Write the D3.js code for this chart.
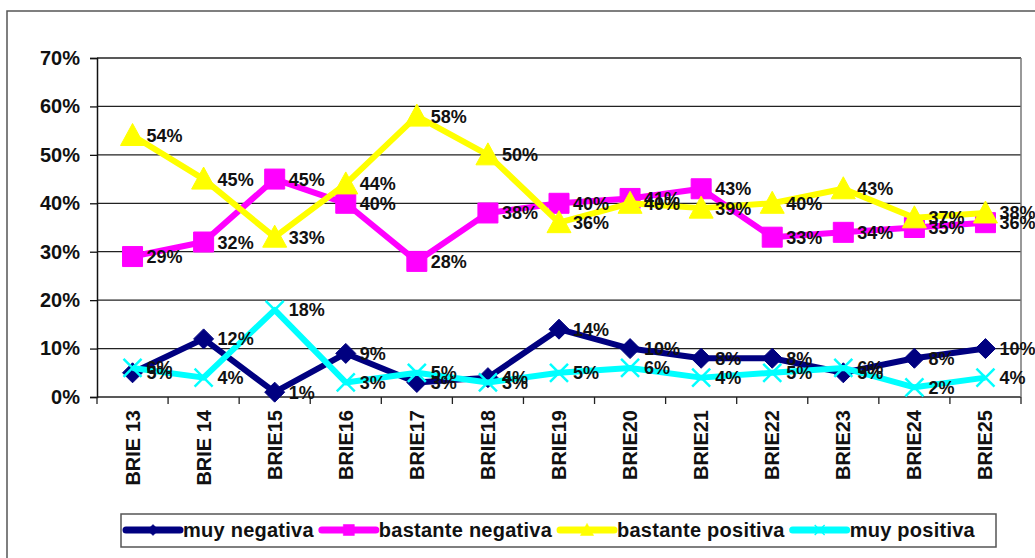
<!DOCTYPE html>
<html>
<head>
<meta charset="utf-8">
<script src="https://cdn.jsdelivr.net/npm/d3@7"></script>
<style>
  body { margin: 0; background: #fff; }
  text { font-family: "Liberation Sans", Arial, sans-serif; font-weight: bold; fill: #111; }
</style>
</head>
<body>
<div id="chart"></div>
<script>
// categories and values
var categories = ["BRIE 13", "BRIE 14", "BRIE15", "BRIE16", "BRIE17", "BRIE18", "BRIE19",
                  "BRIE20", "BRIE21", "BRIE22", "BRIE23", "BRIE24", "BRIE25"];
var muyNegativa      = [5, 12, 1, 9, 3, 4, 14, 10, 8, 8, 5, 8, 10];
var bastanteNegativa = [29, 32, 45, 40, 28, 38, 40, 41, 43, 33, 34, 35, 36];
var bastantePositiva = [54, 45, 33, 44, 58, 50, 36, 40, 39, 40, 43, 37, 38];
var muyPositiva      = [6, 4, 18, 3, 5, 3, 5, 6, 4, 5, 6, 2, 4];
var yTicks = [0, 10, 20, 30, 40, 50, 60, 70];

var series = [
  {name: "muy negativa", values: muyNegativa, color: "#000080", marker: "diamond"},
  {name: "bastante negativa", values: bastanteNegativa, color: "#ff00ff", marker: "square"},
  {name: "bastante positiva", values: bastantePositiva, color: "#ffff00", marker: "triangle"},
  {name: "muy positiva", values: muyPositiva, color: "#00ffff", marker: "cross"}
];

var width = 1035, height = 558;
var plot = {left: 97, right: 1021, top: 58, bottom: 397};

var svg = d3.select("#chart").append("svg")
    .attr("width", width)
    .attr("height", height);

// outer chart frame
svg.append("rect")
    .attr("x", 7).attr("y", 11)
    .attr("width", 1100).attr("height", 600)
    .attr("fill", "none")
    .attr("stroke", "#555")
    .attr("stroke-width", 1.5);

var x = d3.scaleBand()
    .domain(categories)
    .range([plot.left, plot.right]);
var y = d3.scaleLinear()
    .domain([0, 70])
    .range([plot.bottom, plot.top]);

// gridlines
svg.append("g").selectAll("line")
    .data(yTicks)
  .enter().append("line")
    .attr("x1", plot.left).attr("x2", plot.right)
    .attr("y1", function(d) { return y(d); })
    .attr("y2", function(d) { return y(d); })
    .attr("stroke", "#222")
    .attr("stroke-width", 1.3);

// right border of plot area
svg.append("line")
    .attr("x1", plot.right).attr("x2", plot.right)
    .attr("y1", plot.top).attr("y2", plot.bottom)
    .attr("stroke", "#777")
    .attr("stroke-width", 1.5);

// y axis
var yAxis = svg.append("g")
    .attr("transform", "translate(" + plot.left + ",0)")
    .call(d3.axisLeft(y).tickValues(yTicks).tickSize(7).tickPadding(10)
      .tickFormat(function(d) { return d + "%"; }));
yAxis.select(".domain").attr("stroke", "#111").attr("stroke-width", 1.5);
yAxis.selectAll(".tick line").attr("stroke", "#111").attr("stroke-width", 1.3);
yAxis.selectAll("text").style("font-size", "20px").attr("fill", "#111");

// x axis ticks at category boundaries
var bounds = categories.map(function(c) { return x(c); }).concat([plot.right]);
svg.append("g").selectAll("line")
    .data(bounds)
  .enter().append("line")
    .attr("x1", function(d) { return d; })
    .attr("x2", function(d) { return d; })
    .attr("y1", plot.bottom).attr("y2", plot.bottom + 7)
    .attr("stroke", "#222")
    .attr("stroke-width", 1.3);

// x labels, rotated
svg.append("g").selectAll("text")
    .data(categories)
  .enter().append("text")
    .attr("transform", function(d) {
      return "translate(" + (x(d) + x.bandwidth() / 2 + 7) + "," + (plot.bottom + 13) + ") rotate(-90)";
    })
    .attr("text-anchor", "end")
    .style("font-size", "20px")
    .text(function(d) { return d; });

function markerPath(type) {
  if (type === "diamond") return "M0,-10L10,0L0,10L-10,0Z";
  if (type === "square") return "M-10,-10H10V10H-10Z";
  if (type === "triangle") return "M0,-12L12,10L-12,10Z";
  return "M-9,-9L9,9M-9,9L9,-9";
}

function drawMarker(g, type, color) {
  var p = g.append("path").attr("d", markerPath(type));
  if (type === "cross") {
    p.attr("fill", "none").attr("stroke", color).attr("stroke-width", 2.5);
  } else {
    p.attr("fill", color).attr("stroke", color).attr("stroke-width", 1);
  }
}

var line = d3.line()
    .x(function(d, i) { return x(categories[i]) + x.bandwidth() / 2; })
    .y(function(d) { return y(d); });

series.forEach(function(s) {
  var g = svg.append("g");
  g.append("path")
      .datum(s.values)
      .attr("d", line)
      .attr("fill", "none")
      .attr("stroke", s.color)
      .attr("stroke-width", 6)
      .attr("stroke-linejoin", "round");
  s.values.forEach(function(v, i) {
    var m = g.append("g")
        .attr("transform", "translate(" + (x(categories[i]) + x.bandwidth() / 2) + "," + y(v) + ")");
    drawMarker(m, s.marker, s.color);
  });
});

// data labels on top
series.forEach(function(s) {
  svg.append("g").selectAll("text")
      .data(s.values)
    .enter().append("text")
      .attr("x", function(d, i) { return x(categories[i]) + x.bandwidth() / 2 + 14; })
      .attr("y", function(d) { return y(d); })
      .attr("dy", "0.36em")
      .style("font-size", "18px")
      .text(function(d) { return d + "%"; });
});

// legend
var legend = svg.append("g");
legend.append("rect")
    .attr("x", 121).attr("y", 514)
    .attr("width", 875).attr("height", 33)
    .attr("fill", "#fff")
    .attr("stroke", "#555")
    .attr("stroke-width", 1.5);

var lx = 126, ly = 530;
series.forEach(function(s) {
  legend.append("line")
      .attr("x1", lx).attr("x2", lx + 54)
      .attr("y1", ly).attr("y2", ly)
      .attr("stroke", s.color)
      .attr("stroke-width", 7)
      .attr("stroke-linecap", "round");
  var m = legend.append("g")
      .attr("transform", "translate(" + (lx + 27) + "," + ly + ") scale(0.55)");
  drawMarker(m, s.marker, s.color);
  var t = legend.append("text")
      .attr("x", lx + 57)
      .attr("y", ly)
      .attr("dy", "0.36em")
      .style("font-size", "20px")
      .style("letter-spacing", "0.25px")
      .text(s.name);
  lx = lx + 57 + t.node().getComputedTextLength() + 8;
});
</script>
</body>
</html>
